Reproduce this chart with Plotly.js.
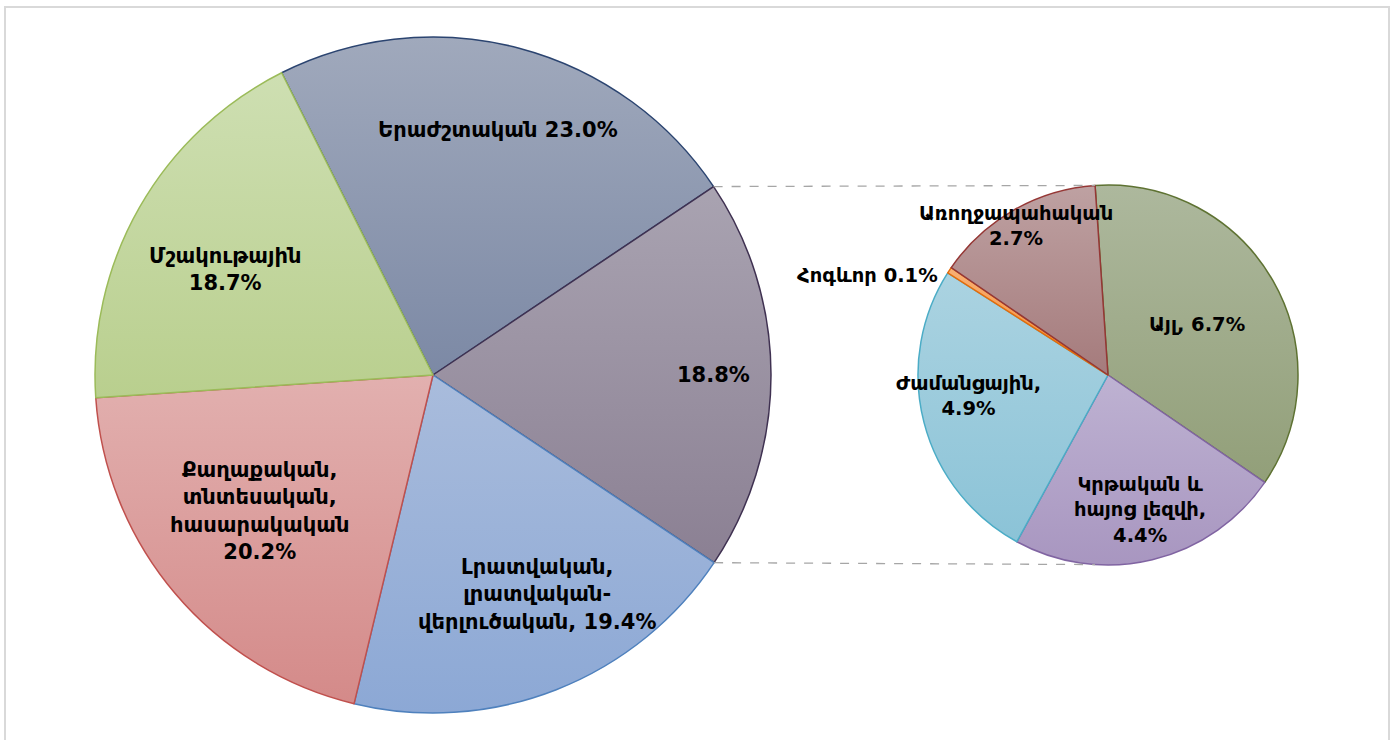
<!DOCTYPE html>
<html>
<head>
<meta charset="utf-8">
<script src="https://cdn.plot.ly/plotly-3.0.1.min.js"></script>
<style>html,body{margin:0;padding:0;background:#fff;}#chart{width:1393px;height:740px;}</style>
</head>
<body>
<div id="chart"></div>
<script>
// ---- data ----
const mainLabels = ["Երաժշտական", "Այլ (ընդհանուր)", "Լրատվական, լրատվական-վերլուծական", "Քաղաքական, տնտեսական, հասարակական", "Մշակութային"];
const mainValues = [23.0, 18.8, 19.4, 20.2, 18.7];
const mainText = ["Երաժշտական 23.0%", "18.8%", "Լրատվական,<br>լրատվական-<br>վերլուծական, 19.4%", "Քաղաքական,<br>տնտեսական,<br>հասարակական<br>20.2%", "Մշակութային<br>18.7%"];

const subLabels = ["Այլ", "Կրթական և հայոց լեզվի", "Ժամանցային", "Հոգևոր", "Առողջապահական"];
const subValues = [6.7, 4.4, 4.9, 0.1, 2.7];
const subText = ["Այլ, 6.7%", "Կրթական և<br>հայոց լեզվի,<br>4.4%", "Ժամանցային,<br>4.9%", "Հոգևոր 0.1%", "Առողջապահական<br>2.7%"];

// ---- style ----
const mainColors = ["#8F9AB2", "#9A90A1", "#9DB3D9", "#DB9E9D", "#C3D69F"];
const mainTop    = ["#A0A9BC", "#A9A3B1", "#A9BCDC", "#E2B0AF", "#CEDFB2"];
const mainBot    = ["#7C89A5", "#8B8093", "#8CA8D5", "#D48A89", "#B9CF8E"];
const mainLines  = ["#2B4470", "#3F3151", "#4F81BD", "#C0504D", "#9BBB59"];
const subColors  = ["#A0AB8C", "#B2A4C7", "#9CCADC", "#F79646", "#B09192"];
const subTop     = ["#ADB89D", "#BEB2D2", "#ABD3E1", "#F9B074", "#BEA1A2"];
const subBot     = ["#929F79", "#A896C0", "#8BC3D7", "#F38A32", "#A57B7C"];
const subLines   = ["#5E7232", "#8064A2", "#4BACC6", "#E46C0A", "#953735"];
const mainLabelR = [0.75, 0.83, 0.72, 0.65, 0.69];
const mainLabelDA = [0, 0, -4, 2, -3];
const subLabelR  = [0.54, 0.73, 0.74, 1.37, 0.92];
const subLabelDA = [0, 0, 6, -11, -2];

const W = 1393, H = 740;
const M = {cx: 433, cy: 375, r: 338, rot: -26.6};
const S = {cx: 1108, cy: 375, r: 190, rot: -3.9};

function dom(g){
  return {x: [(g.cx - g.r)/W, (g.cx + g.r)/W], y: [1 - (g.cy + g.r)/H, 1 - (g.cy - g.r)/H]};
}
function pt(g, ang, k){
  const a = ang*Math.PI/180;
  return [g.cx + g.r*k*Math.sin(a), g.cy - g.r*k*Math.cos(a)];
}
function midAngles(vals, rot){
  const tot = vals.reduce((a,b)=>a+b,0);
  let c = rot; const out = [], starts = [];
  vals.forEach(v => { const s = v/tot*360; starts.push(c); out.push(c + s/2); c += s; });
  return {mid: out, start: starts, tot: tot};
}

const fontFam = "'DejaVu Sans', 'Noto Sans', sans-serif";

const traces = [
  {type: 'pie', labels: mainLabels, values: mainValues, sort: false, direction: 'clockwise',
   rotation: M.rot, domain: dom(M), textinfo: 'none', hoverinfo: 'label+percent',
   marker: {colors: mainColors, line: {color: mainLines, width: 1.5}}},
  {type: 'pie', labels: subLabels, values: subValues, sort: false, direction: 'clockwise',
   rotation: S.rot, domain: dom(S), textinfo: 'none', hoverinfo: 'label+percent',
   marker: {colors: subColors, line: {color: subLines, width: 1.5}}}
];

const annotations = [];
const mm = midAngles(mainValues, M.rot);
mainText.forEach((t, i) => {
  const p = pt(M, mm.mid[i] + mainLabelDA[i], mainLabelR[i]);
  annotations.push({x: p[0]/W, y: 1 - p[1]/H, xref: 'paper', yref: 'paper', xanchor: 'center', yanchor: 'middle',
    text: '<b>' + t + '</b>', showarrow: false, font: {family: fontFam, size: 21, color: '#000'}, align: 'center'});
});
const sm = midAngles(subValues, S.rot);
subText.forEach((t, i) => {
  const p = pt(S, sm.mid[i] + subLabelDA[i], subLabelR[i]);
  annotations.push({x: p[0]/W, y: 1 - p[1]/H, xref: 'paper', yref: 'paper', xanchor: 'center', yanchor: 'middle',
    text: '<b>' + t + '</b>', showarrow: false, font: {family: fontFam, size: 19.5, color: '#000'}, align: 'center'});
});

// connector lines from the aggregated slice edges to the secondary pie
const oStart = mm.start[1], oEnd = mm.start[1] + mainValues[1]/mm.tot*360;
const a1 = pt(M, oStart, 1), a2 = pt(M, oEnd, 1);
const b1 = pt(S, S.rot, 1), b2 = pt(S, 180 - S.rot, 1);
const shapes = [
  {type: 'line', xref: 'paper', yref: 'paper', x0: a1[0]/W, y0: 1 - a1[1]/H, x1: b1[0]/W, y1: 1 - b1[1]/H,
   line: {color: '#A6A6A6', width: 1.3, dash: 'dash'}},
  {type: 'line', xref: 'paper', yref: 'paper', x0: a2[0]/W, y0: 1 - a2[1]/H, x1: b2[0]/W, y1: 1 - b2[1]/H,
   line: {color: '#A6A6A6', width: 1.3, dash: 'dash'}},
  {type: 'rect', xref: 'paper', yref: 'paper', x0: 5/W, y0: -0.05, x1: 1389/W, y1: 1 - 7/H,
   line: {color: '#D9D9D9', width: 2}, fillcolor: 'rgba(0,0,0,0)', layer: 'below'}
];

Plotly.newPlot('chart', traces, {
  width: W, height: H, margin: {l: 0, r: 0, t: 0, b: 0},
  paper_bgcolor: '#fff', showlegend: false,
  annotations: annotations, shapes: shapes
}, {staticPlot: true}).then(gd => {
  // soft vertical gradient on each slice, like the original
  const svgNS = 'http://www.w3.org/2000/svg';
  const svg = gd.querySelector('svg.main-svg');
  let defs = svg.querySelector('defs');
  if (!defs) { defs = document.createElementNS(svgNS, 'defs'); svg.insertBefore(defs, svg.firstChild); }
  const tops = [mainTop, subTop], bots = [mainBot, subBot];
  gd.querySelectorAll('.pielayer .trace').forEach((tr, ti) => {
    tr.querySelectorAll('g.slice').forEach((sl, si) => {
      const id = 'grad_' + ti + '_' + si;
      const lg = document.createElementNS(svgNS, 'linearGradient');
      lg.setAttribute('id', id);
      lg.setAttribute('x1', '0'); lg.setAttribute('y1', '0');
      lg.setAttribute('x2', '0'); lg.setAttribute('y2', '1');
      [[0, tops[ti][si]], [1, bots[ti][si]]].forEach(s => {
        const st = document.createElementNS(svgNS, 'stop');
        st.setAttribute('offset', s[0]);
        st.setAttribute('stop-color', s[1]);
        lg.appendChild(st);
      });
      defs.appendChild(lg);
      const path = sl.querySelector('path.surface');
      if (path) path.style.fill = 'url(#' + id + ')';
    });
  });
});
</script>
</body>
</html>
